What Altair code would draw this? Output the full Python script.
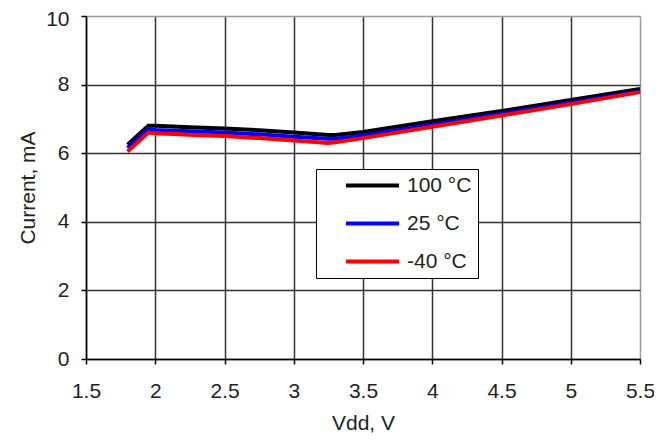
import altair as alt
import pandas as pd

vdd = [1.8, 1.95, 2.0, 2.25, 2.5, 2.75, 3.0, 3.25, 3.3, 3.5, 4.0, 4.5, 5.0, 5.5]
cur_100 = [6.25, 6.80, 6.80, 6.76, 6.72, 6.67, 6.60, 6.53, 6.53, 6.62, 6.93, 7.23, 7.55, 7.87]
cur_25 = [6.15, 6.70, 6.68, 6.64, 6.60, 6.55, 6.48, 6.42, 6.42, 6.52, 6.83, 7.15, 7.47, 7.80]
cur_m40 = [6.05, 6.60, 6.58, 6.54, 6.50, 6.44, 6.37, 6.30, 6.32, 6.44, 6.77, 7.10, 7.43, 7.78]
series = ["100 °C", "25 °C", "-40 °C"]
colors = ["#000000", "#0000ff", "#ff0000"]
x_ticks = [1.5, 2, 2.5, 3, 3.5, 4, 4.5, 5, 5.5]
y_ticks = [0, 2, 4, 6, 8, 10]

rows = []
for name, vals in zip(series, [cur_100, cur_25, cur_m40]):
    for i, (v, c) in enumerate(zip(vdd, vals)):
        rows.append({"Vdd": v, "Current": c, "Series": name, "idx": i})
df = pd.DataFrame(rows)

font = "Liberation Sans"
txt = "#222222"

chart = alt.Chart(df).mark_line(strokeWidth=4).encode(
    x=alt.X("Vdd:Q", title="Vdd, V",
            scale=alt.Scale(domain=[1.5, 5.5], nice=False, zero=False),
            axis=alt.Axis(values=x_ticks, labelExpr="datum.value",
                          labelFlush=False,
                          gridColor=alt.condition("datum.value == 5.5", alt.value("#9a9a9a"), alt.value("#333333")),
                          titlePadding=11, labelPadding=16)),
    y=alt.Y("Current:Q", title="Current, mA",
            scale=alt.Scale(domain=[0, 10], nice=False),
            axis=alt.Axis(values=y_ticks,
                          labelFlush=False,
                          labelOffset=alt.condition("datum.value == 10", alt.value(3), alt.value(0)),
                          gridColor=alt.condition("datum.value == 10", alt.value("#9a9a9a"), alt.value("#333333")),
                          titlePadding=7, labelPadding=12)),
    color=alt.Color("Series:N", sort=series,
                    scale=alt.Scale(domain=series, range=colors),
                    legend=alt.Legend(title=None, orient="none", legendX=230, legendY=153,
                                      symbolType="M-5,0H5", symbolSize=113, symbolStrokeWidth=4,
                                      labelFontSize=21, labelFont=font, labelColor=txt,
                                      labelOffset=24, rowPadding=16, padding=6, symbolOffset=40,
                                      strokeColor="#000000", fillColor="#ffffff")),
    order="idx:Q",
).properties(
    width=554, height=343,
    padding={"left": 78, "top": 8, "right": 14, "bottom": 80},
    autosize=alt.AutoSizeParams(type="none"),
).configure_view(
    stroke=None
).configure_axis(
    grid=True, gridWidth=1.5, domainColor="#000000", domainWidth=1.5,
    tickColor="#000000", tickSize=5, tickWidth=1.5,
    labelFont=font, labelFontSize=21, labelColor=txt,
    titleFont=font, titleFontSize=21, titleColor=txt, titleFontWeight="normal",
)

chart.save("out.html", embed_options={"renderer": "svg", "actions": False})
